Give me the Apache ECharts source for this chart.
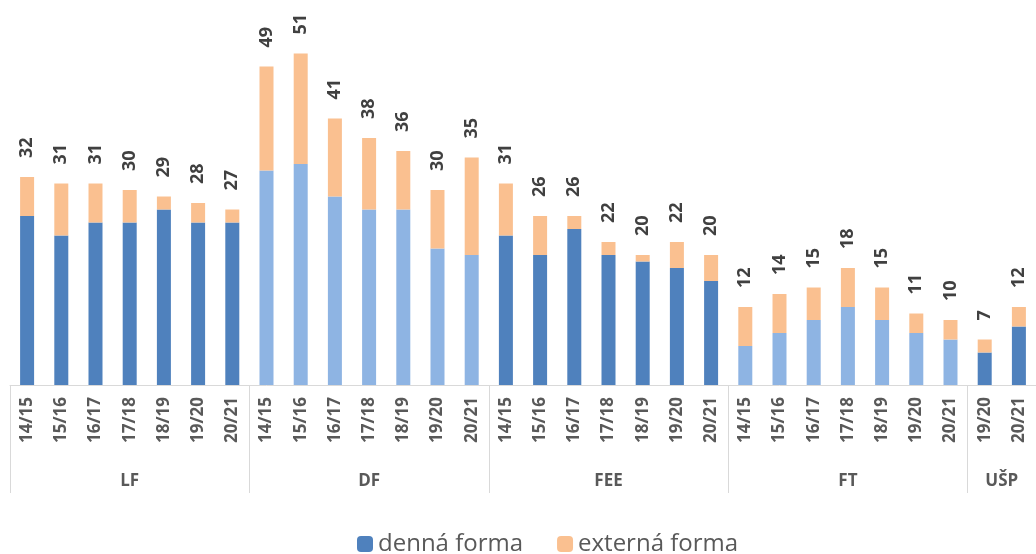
<!doctype html>
<html>
<head>
    <meta charset="utf-8">
    <title>Študenti podľa fakúlt</title>
    <script src="https://cdn.jsdelivr.net/npm/echarts@6/dist/echarts.min.js"></script>
</head>
<body style="margin:0;background:#fff;">
    <div id="container" style="width:1036px;height:554px;"></div>
    <script type="text/javascript">
        // fakulty a roky
        var groups = ['LF', 'DF', 'FEE', 'FT', 'UŠP'];
        var groupYears = [
            ['14/15', '15/16', '16/17', '17/18', '18/19', '19/20', '20/21'],
            ['14/15', '15/16', '16/17', '17/18', '18/19', '19/20', '20/21'],
            ['14/15', '15/16', '16/17', '17/18', '18/19', '19/20', '20/21'],
            ['14/15', '15/16', '16/17', '17/18', '18/19', '19/20', '20/21'],
            ['19/20', '20/21']
        ];
        // denná forma
        var denna = [26, 23, 25, 25, 27, 25, 25,
            33, 34, 29, 27, 27, 21, 20,
            23, 20, 24, 20, 19, 18, 16,
            6, 8, 10, 12, 10, 8, 7,
            5, 9];
        // externá forma
        var externa = [6, 8, 6, 5, 2, 3, 2,
            16, 17, 12, 11, 9, 9, 15,
            8, 6, 2, 2, 1, 4, 4,
            6, 6, 5, 6, 5, 3, 3,
            2, 3];
        var lightGroups = ['DF', 'FT']; // svetlejšia modrá

        var categories = [], groupOf = [];
        groupYears.forEach(function(ys, g) {
            ys.forEach(function(y) {
                categories.push(y);
                groupOf.push(groups[g]);
            });
        });
        var totals = denna.map(function(v, i) { return v + externa[i]; });

        // druhá os: polovičné kroky, hranice skupín a stredy
        var halfCats = [], bounds = {}, centers = {};
        var pos = 0;
        bounds[0] = true;
        groupYears.forEach(function(ys, g) {
            centers[pos + ys.length] = groups[g];
            pos += ys.length * 2;
            bounds[pos] = true;
        });
        for (var k = 0; k <= pos; k++) halfCats.push(centers[k] || '');

        var dennaData = denna.map(function(v, i) {
            if (lightGroups.indexOf(groupOf[i]) >= 0) {
                return { value: v, itemStyle: { color: '#8eb4e3' } };
            }
            return v;
        });

        var option = {
            animation: false,
            textStyle: { fontFamily: 'Open Sans' },
            grid: { left: 10, right: 0, top: 21, bottom: 169 },
            legend: {
                top: 527,
                left: 352,
                itemWidth: 16,
                itemHeight: 16,
                itemGap: 34,
                textStyle: { fontSize: 24, color: '#595959' },
                data: ['denná forma', 'externá forma']
            },
            xAxis: [{
                type: 'category',
                data: categories,
                axisLine: { lineStyle: { color: '#d9d9d9' } },
                axisTick: { show: false },
                axisLabel: {
                    rotate: 90,
                    interval: 0,
                    margin: 12,
                    fontSize: 17,
                    fontWeight: 'bold',
                    color: '#595959'
                }
            }, {
                type: 'category',
                position: 'bottom',
                boundaryGap: false,
                data: halfCats,
                axisLine: { show: false },
                axisTick: {
                    show: true,
                    length: 108,
                    interval: function(i) { return !!bounds[i]; },
                    lineStyle: { color: '#d9d9d9' }
                },
                axisLabel: {
                    interval: function(i) { return !!centers[i]; },
                    margin: 88,
                    fontSize: 17,
                    fontWeight: 'bold',
                    color: '#595959'
                }
            }],
            yAxis: {
                type: 'value',
                min: 0,
                max: 56,
                show: false,
                splitLine: { show: false }
            },
            series: [{
                name: 'denná forma',
                type: 'bar',
                stack: 'spolu',
                barWidth: 14,
                itemStyle: { color: '#4f81bd' },
                data: dennaData
            }, {
                name: 'externá forma',
                type: 'bar',
                stack: 'spolu',
                barWidth: 14,
                itemStyle: { color: '#fac090' },
                label: {
                    show: true,
                    position: 'top',
                    rotate: 90,
                    align: 'left',
                    verticalAlign: 'middle',
                    distance: 19,
                    fontSize: 18,
                    fontWeight: 'bold',
                    color: '#404040',
                    formatter: function(p) { return totals[p.dataIndex]; }
                },
                data: externa
            }]
        };
        var myChart = echarts.init(document.getElementById('container'));
        myChart.setOption(option);
    </script>
</body>
</html>
